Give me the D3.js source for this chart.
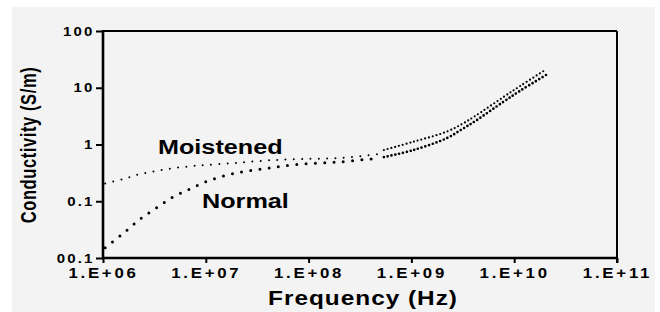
<!DOCTYPE html>
<html lang="en">
<head>
  <meta charset="UTF-8">
  <title>Conductivity vs Frequency</title>
  <script src="https://d3js.org/d3.v7.min.js"></script>
  <style>
    body { margin: 0; background: #fff; }
    svg text { font-family: "Liberation Sans", Arial, sans-serif; font-weight: bold; fill: #000; }
  </style>
</head>
<body>
  <div id="chart"></div>
  <script>
    // low-frequency part (sparse dots)
    const lowFreq    = [1.05e6, 1.6e6, 2.3e6, 3.3e6, 4.8e6, 7e6, 1e7, 1.9e7, 3.9e7, 8.3e7, 2e8, 4.9e8];
    const moistLow   = [0.205, 0.249, 0.302, 0.341, 0.381, 0.413, 0.435, 0.472, 0.522, 0.556, 0.575, 0.68];
    const normalLow  = [0.0152, 0.0279, 0.0486, 0.076, 0.119, 0.164, 0.221, 0.311, 0.381, 0.448, 0.492, 0.578];

    // high-frequency part (dense dots)
    const highFreq   = [5.4e8, 1.05e9, 2.2e9, 3.2e9, 4.2e9, 7.8e9, 1.15e10, 2.04e10];
    const moistHigh  = [0.80, 1.12, 1.68, 2.36, 3.2, 6.8, 10.8, 21];
    const normalHigh = [0.60, 0.80, 1.29, 1.92, 2.6, 5.6, 8.9, 16.8];

    const xTicks = [1e6, 1e7, 1e8, 1e9, 1e10, 1e11];
    const xTickLabels = ["1.E+06", "1.E+07", "1.E+08", "1.E+09", "1.E+10", "1.E+11"];
    const yTicks = [0.01, 0.1, 1, 10, 100];
    const yTickLabels = ["00.1", "0.1", "1", "10", "100"];

    const width = 660, height = 312;
    const mLeft = 103, mRight = 617, mTop = 31, mBottom = 258;

    const svg = d3.select("#chart").append("svg")
        .attr("width", width)
        .attr("height", height);

    // gray backdrop
    svg.append("rect")
      .attr("x", 12).attr("y", 7)
      .attr("width", 643).attr("height", 305)
      .attr("fill", "#f3f3f3");

    const x = d3.scaleLog().domain([1e6, 1e11]).range([mLeft, mRight]);
    const y = d3.scaleLog().domain([0.01, 100]).range([mBottom, mTop]);

    // axes
    const xAxis = svg.append("g")
      .attr("transform", `translate(0,${mBottom})`)
      .call(d3.axisBottom(x).tickValues(xTicks)
        .tickFormat((d, i) => xTickLabels[i]).tickSize(5));
    xAxis.select(".domain").remove();
    xAxis.selectAll(".tick line").attr("stroke", "#000").attr("stroke-width", 2);
    xAxis.selectAll(".tick text")
      .attr("y", 10)
      .attr("transform", "scale(1.2,1)")
      .style("font-size", "14px")
      .style("letter-spacing", "2.3px");

    const yAxis = svg.append("g")
      .attr("transform", `translate(${mLeft},0)`)
      .call(d3.axisLeft(y).tickValues(yTicks)
        .tickFormat((d, i) => yTickLabels[i]).tickSize(7));
    yAxis.select(".domain").remove();
    yAxis.selectAll(".tick line").attr("stroke", "#000").attr("stroke-width", 2);
    yAxis.selectAll(".tick text")
      .attr("x", -7)
      .attr("transform", "scale(1.2,1)")
      .style("font-size", "12.5px")
      .style("letter-spacing", "1.8px");

    // frame
    svg.append("line").attr("x1", mLeft).attr("x2", mLeft).attr("y1", mTop - 1).attr("y2", mBottom + 1)
      .attr("stroke", "#000").attr("stroke-width", 2.6);
    svg.append("line").attr("x1", mLeft - 1).attr("x2", mRight + 1).attr("y1", mBottom).attr("y2", mBottom)
      .attr("stroke", "#000").attr("stroke-width", 2.6);
    svg.append("line").attr("x1", mLeft).attr("x2", mRight).attr("y1", mTop).attr("y2", mTop)
      .attr("stroke", "#000").attr("stroke-width", 2);
    svg.append("line").attr("x1", mRight).attr("x2", mRight).attr("y1", mTop).attr("y2", mBottom + 5)
      .attr("stroke", "#000").attr("stroke-width", 2);

    // dotted curves
    const line = d3.line()
      .x(d => x(d[0]))
      .y(d => y(d[1]))
      .curve(d3.curveCatmullRom.alpha(0.5));

    function dotted(freq, vals, dot, gap) {
      svg.append("path")
        .datum(freq.map((f, i) => [f, vals[i]]))
        .attr("d", line)
        .attr("fill", "none")
        .attr("stroke", "#000")
        .attr("stroke-width", dot)
        .attr("stroke-linecap", "round")
        .attr("stroke-dasharray", `0 ${gap}`);
    }

    dotted(lowFreq, moistLow, 2, 8.3);
    dotted(lowFreq, normalLow, 3, 9.3);
    dotted(highFreq, moistHigh, 2.2, 3.9);
    dotted(highFreq, normalHigh, 2.7, 3.9);

    // annotations
    svg.append("text")
      .attr("transform", "translate(158,154) scale(1.2,1)")
      .style("font-size", "21px")
      .text("Moistened");
    svg.append("text")
      .attr("transform", "translate(202,208) scale(1.2,1)")
      .style("font-size", "21px")
      .text("Normal");

    // axis titles
    svg.append("text")
      .attr("transform", "translate(363,305) scale(1.22,1)")
      .attr("text-anchor", "middle")
      .style("font-size", "20px")
      .style("letter-spacing", "0.8px")
      .text("Frequency (Hz)");
    svg.append("text")
      .attr("transform", "translate(36,145) scale(1.3,1) rotate(-90)")
      .attr("text-anchor", "middle")
      .style("font-size", "16.5px")
      .style("letter-spacing", "0.6px")
      .text("Conductivity (S/m)");
  </script>
</body>
</html>
